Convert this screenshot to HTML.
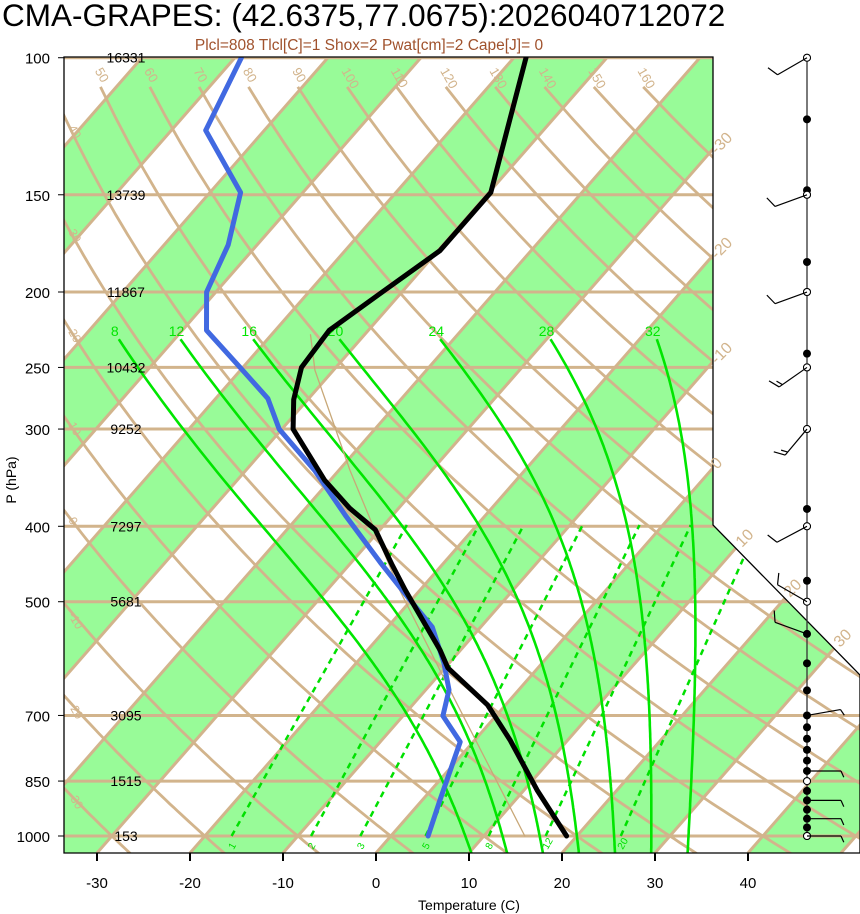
<!DOCTYPE html>
<html><head><meta charset="utf-8"><style>
html,body{margin:0;padding:0;background:#fff;}
svg{display:block;font-family:"Liberation Sans",sans-serif;}
</style></head><body>
<svg id="chart" width="860" height="914" viewBox="0 0 860 914" xmlns="http://www.w3.org/2000/svg">
<defs><clipPath id="pc"><polygon points="64,57 713,57 713,525 860,675 860,853 64,853"/></clipPath></defs>
<text x="2" y="26" font-size="31.5" fill="#000">CMA-GRAPES: (42.6375,77.0675):2026040712072</text>
<text x="369" y="50" font-size="15.5" fill="#a0522d" text-anchor="middle">Plcl=808 Tlcl[C]=1 Shox=2 Pwat[cm]=2 Cape[J]= 0</text>
<g id="bg" clip-path="url(#pc)"></g>
<g id="prof" clip-path="url(#pc)"></g>
<polygon points="64,57 713,57 713,525 860,675 860,853 64,853" fill="none" stroke="#000" stroke-width="1.3"/>
<g id="ax"></g>
<g id="wind"></g>
<text x="469" y="910" font-size="14" text-anchor="middle">Temperature (C)</text>
<text transform="translate(16,480) rotate(-90)" font-size="14" text-anchor="middle">P (hPa)</text>
</svg>
<script>
// ---- data ----
const pressureTicks=[100,150,200,250,300,400,500,700,850,1000];
const heightLabels=["16331","13739","11867","10432","9252","7297","5681","3095","1515","153"];
const tempTicks=[-30,-20,-10,0,10,20,30,40];
const tempP=[100,149,177,200,224,250,275,300,349,379,404,449,483,577,608,679,753,873,1000];
const tempT=[-58.7,-49.8,-49.8,-52.1,-54.2,-53.7,-51.5,-48.8,-40.6,-35.3,-30.5,-25.3,-21.6,-12.2,-9.7,-1.9,3.8,11.4,18.9];
const dewP=[100,124,149,174,200,224,250,274,300,339,387,445,497,539,599,649,701,757,899,1000];
const dewT=[-89.3,-86.3,-76.7,-73.1,-71.0,-67.4,-60.3,-54.4,-50.3,-42.6,-35.1,-26.9,-20.2,-15.2,-10.6,-7.5,-5.7,-1.4,1.9,4.0];
const parcelP=[1000,649,483,339,252,227];
const parcelT=[14.4,-7.4,-22.2,-38.8,-52,-55.8];
const dryThetas=[-30,-20,-10,0,10,20,30,40,50,60,70,80,90,100,110,120,130,140,150,160];
const moistLabels=[8,12,16,20,24,28,32];
const mixRatios=[1,2,3,5,8,12,20];
const windP=[100,150,200,250,300,400,500,550,700,825,900,950,1000];
const windDir=[240,250,250,235,220,242,300,290,80,90,90,90,90];
const windSpd=[10,10,10,15,15,10,10,10,5,5,5,5,5];
const dotP=[100,120,148,150,183,200,240,250,300,380,400,470,500,550,600,650,700,725,750,775,800,825,850,875,900,925,950,975,1000];
const openDotP=[100,150,200,250,300,400,500,850,1000];
// ---- scales ----
const NS="http://www.w3.org/2000/svg";
function yP(p){return 836-338*Math.log(1000/p);}
function xT(T,y){return 376+9.3*T+(853-y)*0.875;}
function mk(tag,attrs,parent){const e=document.createElementNS(NS,tag);for(const k in attrs)e.setAttribute(k,attrs[k]);parent.appendChild(e);return e;}
const bg=document.getElementById('bg'),prof=document.getElementById('prof'),ax=document.getElementById('ax'),wind=document.getElementById('wind');
const TAN="#d2b48c";
for(let T=-200;T<=60;T+=20){
  const pts=[[xT(T,57),57],[xT(T+10,57),57],[xT(T+10,853),853],[xT(T,853),853]];
  const e=mk('polygon',{points:pts.map(a=>a.join(',')).join(' '),fill:'#98fb98'},bg);
  
  
}
pressureTicks.forEach(p=>{const y=yP(p);const e=mk('line',{x1:64,x2:860,y1:y,y2:y,stroke:TAN,'stroke-width':3},bg);
  
  });
for(let T=-200;T<=60;T+=10){const e=mk('line',{x1:xT(T,57),y1:57,x2:xT(T,853),y2:853,stroke:TAN,'stroke-width':3},bg);
  
  }
dryThetas.forEach(th=>{let pts=[];for(let p=109;p<=1060;p+=10){const y=yP(p);const T=(th+273.15)*Math.pow(p/1000,0.286)-273.15;pts.push(xT(T,y).toFixed(1)+','+y.toFixed(1));}
  const e=mk('polyline',{points:pts.join(' '),fill:'none',stroke:TAN,'stroke-width':2.8},bg);
  
  });
function tdOf(w,p){const e=w*p/(622+w);const l=Math.log(e/6.112);return 243.5*l/(17.67-l);}
mixRatios.forEach(w=>{const x1=xT(tdOf(w,1000),836),x2=xT(tdOf(w,400),525);
  const e=mk('line',{x1:x1,y1:836,x2:x2,y2:525,stroke:'#00e000','stroke-width':2.5,'stroke-dasharray':'6,5'},bg);
  
  
  const t=mk('text',{transform:`translate(${x1+2},850) rotate(-60)`,'font-size':10,fill:'#00e000'},bg);t.textContent=w;
  
  });
function es(T){return 6.112*Math.exp(17.67*T/(T+243.5));}
function dTdp(T,p){const Tk=T+273.15,rs=0.622*es(T)/(p-es(T)),L=2.5e6,Rd=287,cp=1004;
  return (Rd*Tk+L*rs)/(p*(cp+L*L*rs*0.622/(Rd*Tk*Tk)));}
moistLabels.forEach(T0=>{let T=T0;const dp=5;
  let down=[];for(let p=1000;p<1060;p+=dp){T+=dTdp(T,p)*dp;down.push([p+dp,T]);}
  T=T0;let up=[[1000,T0]];for(let p=1000;p>230;p-=dp){T-=dTdp(T,p)*dp;up.push([p-dp,T]);}
  const all=down.reverse().concat(up);
  const e=mk('polyline',{points:all.map(a=>{const y=yP(a[0]);return xT(a[1],y).toFixed(1)+','+y.toFixed(1);}).join(' '),fill:'none',stroke:'#00e600','stroke-width':2.6},bg);
  
  
  const last=all[all.length-1];const y=yP(last[0]);
  const t=mk('text',{x:xT(last[1],y)-4,y:y-3,'font-size':14,fill:'#00e600','text-anchor':'middle'},bg);t.textContent=T0;
  
  });
dryThetas.forEach(th=>{const p=109;const y=yP(p);const T=(th+273.15)*Math.pow(p/1000,0.286)-273.15;const x=xT(T,y);
  if(x>70&&x<700){const t=mk('text',{transform:`translate(${x-6},${y-16}) rotate(60)`,'font-size':13,fill:TAN},ax);t.textContent=th;
  
  }});
[[40,128],[30,232],[20,332],[10,425],[0,520],[-10,615],[-20,705],[-30,795]].forEach(a=>{const t=mk('text',{transform:`translate(68,${a[1]}) rotate(60)`,'font-size':12,fill:TAN},ax);t.textContent=a[0];
  
  });
[[-30,717,155],[-20,717,260],[-10,717,365],[0,717,470],[10,742,548],[20,790,598],[30,840,648]].forEach(a=>{const t=mk('text',{transform:`translate(${a[1]},${a[2]}) rotate(-45)`,'font-size':16,fill:TAN},ax);t.textContent=a[0];
  
  });
function line(P,T,color,w,name){const pts=P.map((p,i)=>{const y=yP(p);return xT(T[i],y).toFixed(1)+','+y.toFixed(1);}).join(' ');
  const e=mk('polyline',{points:pts,fill:'none',stroke:color,'stroke-width':w,'stroke-linejoin':'round','stroke-linecap':'round'},prof);
  
  }
line(parcelP,parcelT,'#c8a878',1.3,'parcel-path');
line(dewP,dewT,'#4169e1',5,'dewpoint-profile');
line(tempP,tempT,'#000',5,'temperature-profile');
pressureTicks.forEach((p,i)=>{const y=yP(p);
  mk('line',{x1:58,x2:64,y1:y,y2:y,stroke:'#000','stroke-width':1},ax);
  const t=mk('text',{x:50,y:y+6,'font-size':15,'text-anchor':'end'},ax);t.textContent=p;
  
  
  const h=mk('text',{x:126,y:y+5,'font-size':14,'text-anchor':'middle'},ax);h.textContent=heightLabels[i];
  
  });
tempTicks.forEach(T=>{const x=xT(T,853);
  mk('line',{x1:x,x2:x,y1:853,y2:861,stroke:'#000','stroke-width':2},ax);
  const t=mk('text',{x:x,y:888,'font-size':15,'text-anchor':'middle'},ax);t.textContent=T;
  
  });
mk('line',{x1:807,x2:807,y1:57,y2:840,stroke:'#333','stroke-width':1.3},wind);
dotP.forEach(p=>{const c=mk('circle',{cx:807,cy:yP(p),r:4,fill:'#000'},wind);
  
  });
openDotP.forEach(p=>{const c=mk('circle',{cx:807,cy:yP(p),r:3.5,fill:'#fff',stroke:'#000','stroke-width':1},wind);
  
  });
windP.forEach((p,i)=>{const y=yP(p),a=windDir[i]*Math.PI/180,L=34;
  const dx=Math.sin(a),dy=-Math.cos(a);const ex=807+dx*L,ey=y+dy*L;
  const g=mk('g',{},wind);
  
  
  mk('line',{x1:807,y1:y,x2:ex,y2:ey,stroke:'#000','stroke-width':1.2},g);
  let s=windSpd[i],k=0;const px=-dy,py=dx;
  while(s>=5){const len=s>=10?12:7;const bx=ex-dx*k*4,by=ey-dy*k*4;
    mk('line',{x1:bx,y1:by,x2:bx+px*len*0.9+dx*len*0.4,y2:by+py*len*0.9+dy*len*0.4,stroke:'#000','stroke-width':1.2},g);
    s-=(s>=10?10:5);k++;}
});
</script>
</body></html>
